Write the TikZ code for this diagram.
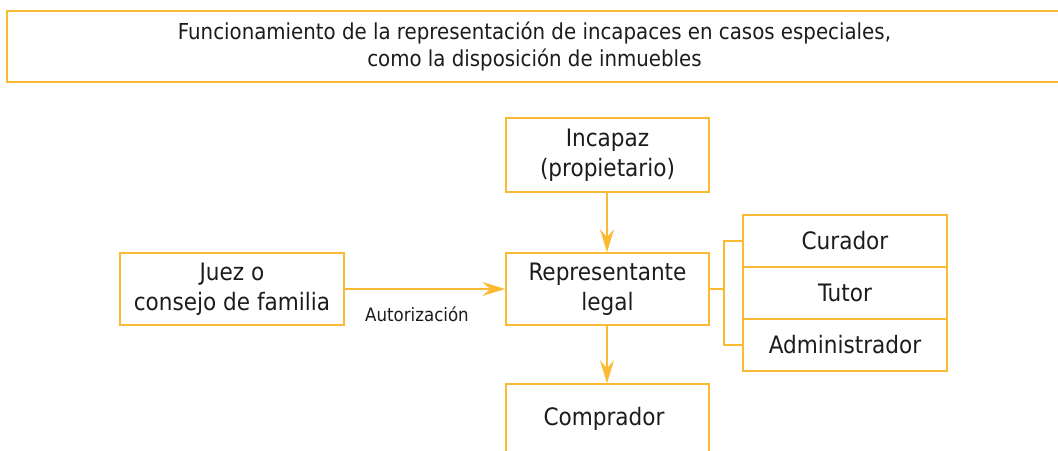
\documentclass[tikz,border=0pt]{standalone}
\usepackage{fontspec}
\setmainfont{DejaVu Sans Condensed}
\usetikzlibrary{arrows.meta}
\definecolor{ambar}{RGB}{250,186,52}
\definecolor{texto}{RGB}{30,27,28}
\tikzset{
	caja/.style={shape=rectangle, draw=ambar, line width=1.5pt, align=center, text=texto,
		inner sep=0pt, font=\fontsize{24}{30}\selectfont},
	flecha/.style={draw=ambar, line width=1.5pt, -{Stealth[length=23pt, width=14pt, inset=8pt, ambar]}},
	linea/.style={draw=ambar, line width=1.5pt}
}
\begin{document}
\begin{tikzpicture}[x=1pt, y=-1pt]
			\useasboundingbox (0,0) rectangle (1058,450);
			
			\node (titulo)[caja, minimum width=1055pt, minimum height=71pt, font=\fontsize{22}{27}\selectfont] 
			at (534.5,46.5){
				Funcionamiento de la representación de incapaces en casos especiales, \\ como la disposición de inmuebles
			}; 
			
			\node (incapaz)[caja, minimum width=203pt, minimum height=74pt] 
			at (607.5,155){
				Incapaz \\ (propietario)
			}; 
			
			\node (rep)[caja, minimum width=203pt, minimum height=72pt] 
			at (607.5,289){
				Representante \\ legal
			}; 
			
			\node (juez)[caja, minimum width=224pt, minimum height=72pt] 
			at (232,289){
				Juez o \\ consejo de familia
			}; 
			
			\node (comprador)[caja, minimum width=203pt, minimum height=70pt] 
			at (607.5,419){
				Comprador
			}; 
			
			\node (curador)[caja, minimum width=204pt, minimum height=52pt] 
			at (845,241){Curador};
			
			\node (tutor)[caja, minimum width=204pt, minimum height=52pt] 
			at (845,293){Tutor};
			
			\node (admin)[caja, minimum width=204pt, minimum height=52pt] 
			at (845,345){Administrador};
			
			\coordinate (horquilla) at (724,289);
			
			\draw[flecha] ([xshift=-0.5pt]incapaz.south) -- ([xshift=-0.5pt]rep.north);
			\draw[flecha] ([xshift=-0.5pt]rep.south) -- ([xshift=-0.5pt]comprador.north);
			\draw[flecha] (juez) -- node[below=14pt, xshift=-8pt, text=texto, font=\fontsize{18.5}{22}\selectfont]{Autorización} (rep);
			\draw[linea] (rep.east) -- (horquilla);
			\draw[linea] (curador.west) -| (horquilla) |- (admin.west);
		\end{tikzpicture}
\end{document}
